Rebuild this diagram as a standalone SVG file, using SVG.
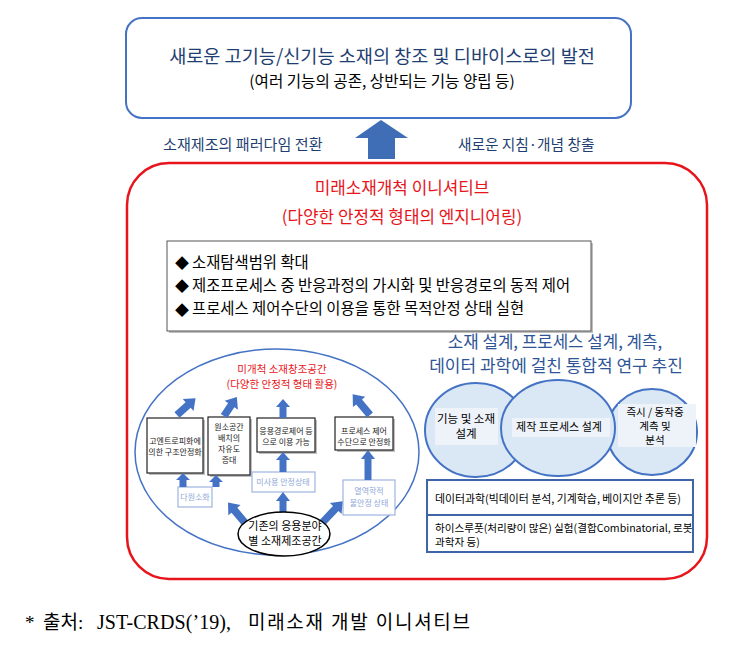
<svg xmlns="http://www.w3.org/2000/svg" width="752" height="649" viewBox="0 0 752 649">
<defs>
<style>
text{font-family:"Noto Sans CJK KR","Liberation Sans",sans-serif}
.kb{fill:#1F3F73}
.blk{fill:#000}
.red{fill:#E8141B}
.sm{font-size:8px;fill:#222;text-anchor:middle}
.lb{font-size:8px;fill:#8FA8D8;text-anchor:middle}
.arr{fill:#4472C4}
.wbox{fill:#fff;stroke:#222;stroke-width:1.2}
.shd{fill:#BFBFBF}
.lbbox{fill:#fff;stroke:#9DB5E0;stroke-width:1.2}
.ell{fill:#DAE8F6;stroke:#4472C4;stroke-width:2}
.tbg{fill:#EEF3FA}
.fn{font-family:"Liberation Serif","Noto Sans CJK KR",serif;fill:#000}
</style>
</defs>
<rect width="752" height="649" fill="#fff"/>

<g id="top-box">
<rect x="126" y="18" width="505" height="100" rx="16" fill="#fff" stroke="#4472C4" stroke-width="2"/>
<text x="382" y="63" font-size="18.6" text-anchor="middle" class="kb">새로운 고기능/신기능 소재의 창조 및 디바이스로의 발전</text>
<text x="382" y="87" font-size="15.6" text-anchor="middle" class="blk">(여러 기능의 공존, 상반되는 기능 양립 등)</text>
</g>

<g id="transition-labels">
<text x="163" y="150" font-size="15.1" class="kb">소재제조의 패러다임 전환</text>
<text x="458" y="150" font-size="14.7" class="kb">새로운 지침·개념 창출</text>
</g>

<g id="initiative-box">
<rect x="127" y="163" width="580" height="416" rx="42" fill="none" stroke="#E8141B" stroke-width="2.5"/>
<text x="402" y="194" font-size="16.9" text-anchor="middle" class="red">미래소재개척 이니셔티브</text>
<text x="402" y="223" font-size="16.9" text-anchor="middle" class="red">(다양한 안정적 형태의 엔지니어링)</text>
</g>

<g id="bullet-box">
<rect x="169" y="243" width="424" height="90" class="shd"/>
<rect x="167" y="241" width="424" height="90" fill="#fff" stroke="#555" stroke-width="1"/>
<text font-size="14" class="blk"><tspan x="175" y="268">◆</tspan><tspan x="175" y="291">◆</tspan><tspan x="175" y="315">◆</tspan></text>
<text font-size="15.4" class="blk">
<tspan x="192" y="268">소재탐색범위 확대</tspan>
<tspan x="192" y="291">제조프로세스 중 반응과정의 가시화 및 반응경로의 동적 제어</tspan>
<tspan x="192" y="314">프로세스 제어수단의 이용을 통한 목적안정 상태 실현</tspan>
</text>
</g>

<g id="unexplored-space">
<ellipse cx="277" cy="452" rx="142" ry="103" fill="#fff" stroke="#4472C4" stroke-width="1.5"/>
<text x="282" y="373" font-size="10.5" text-anchor="middle" class="red">미개척 소재창조공간</text>
<text x="282" y="388" font-size="10.5" text-anchor="middle" class="red">(다양한 안정적 형태 활용)</text>
</g>

<g id="box-entropy">
<rect x="149" y="420" width="56" height="55" class="shd"/>
<rect x="147" y="418" width="56" height="55" class="wbox"/>
<text class="sm"><tspan x="175" y="444">고엔트로피화에</tspan><tspan x="175" y="455">의한 구조안정화</tspan></text>
</g>

<g id="box-element">
<rect x="210" y="419" width="42" height="58" class="shd"/>
<rect x="208" y="417" width="42" height="58" class="wbox"/>
<text class="sm"><tspan x="229" y="430">원소공간</tspan><tspan x="229" y="441">배치의</tspan><tspan x="229" y="452">자유도</tspan><tspan x="229" y="463">증대</tspan></text>
</g>

<g id="box-path">
<rect x="259" y="420" width="58" height="34" class="shd"/>
<rect x="257" y="418" width="58" height="34" class="wbox"/>
<text class="sm"><tspan x="286" y="434">응용경로제어 등</tspan><tspan x="286" y="445">으로 이용 가능</tspan></text>
</g>

<g id="box-process">
<rect x="337" y="419" width="58" height="33" class="shd"/>
<rect x="335" y="417" width="58" height="33" class="wbox"/>
<text class="sm"><tspan x="364" y="434">프로세스 제어</tspan><tspan x="364" y="445">수단으로 안정화</tspan></text>
</g>

<g id="box-multi">
<rect x="178" y="487" width="34" height="20" class="lbbox"/>
<text class="lb" x="195" y="500">다원소화</text>
</g>

<g id="box-unused">
<rect x="252" y="472" width="63" height="20" class="lbbox"/>
<text class="lb" x="283" y="485">미사용 안정상태</text>
</g>

<g id="box-thermo">
<rect x="343" y="480" width="52" height="35" class="lbbox"/>
<text class="lb"><tspan x="369" y="494">열역학적</tspan><tspan x="369" y="506">불안정 상태</tspan></text>
</g>

<g id="connectors">
<path fill="#3F6EB7" d="M381,120 L408,138 L395,138 L395,159 L368,159 L368,138 L355,138 Z"/>
<g class="arr">
<path transform="translate(177,415) rotate(48)" d="M0,-25 L8,-15 L3.8,-15 L3.8,0 L-3.8,0 L-3.8,-15 L-8,-15 Z"/>
<path transform="translate(224,416) rotate(34)" d="M0,-23 L8,-13 L3.8,-13 L3.8,0 L-3.8,0 L-3.8,-13 L-8,-13 Z"/>
<path transform="translate(283,418)" d="M0,-19 L7,-11 L3.5,-11 L3.5,0 L-3.5,0 L-3.5,-11 L-7,-11 Z"/>
<path transform="translate(370,415) rotate(-40)" d="M0,-27 L8,-17 L3.8,-17 L3.8,0 L-3.8,0 L-3.8,-17 L-8,-17 Z"/>
<path transform="translate(183,487)" d="M0,-14 L7,-7 L3.5,-7 L3.5,0 L-3.5,0 L-3.5,-7 L-7,-7 Z"/>
<path transform="translate(216,487)" d="M0,-12 L7,-5 L3.5,-5 L3.5,0 L-3.5,0 L-3.5,-5 L-7,-5 Z"/>
<path transform="translate(283,472)" d="M0,-20 L7,-12 L3.5,-12 L3.5,0 L-3.5,0 L-3.5,-12 L-7,-12 Z"/>
<path transform="translate(368,480)" d="M0,-30 L7,-21 L3.5,-21 L3.5,0 L-3.5,0 L-3.5,-21 L-7,-21 Z"/>
<path transform="translate(246,524) rotate(-40)" d="M0,-28 L8,-18 L3.8,-18 L3.8,0 L-3.8,0 L-3.8,-18 L-8,-18 Z"/>
<path transform="translate(283,513)" d="M0,-21 L7,-12 L3.5,-12 L3.5,0 L-3.5,0 L-3.5,-12 L-7,-12 Z"/>
<path transform="translate(322,523) rotate(43.5)" d="M0,-30 L8,-20 L3.8,-20 L3.8,0 L-3.8,0 L-3.8,-20 L-8,-20 Z"/>
</g>
</g>

<g id="existing-space">
<ellipse cx="284" cy="534" rx="46" ry="22" fill="#fff" stroke="#000" stroke-width="1.5"/>
<text font-size="11" text-anchor="middle" class="blk"><tspan x="285" y="530">기존의 응용분야</tspan><tspan x="285" y="545">별 소재제조공간</tspan></text>
</g>

<g id="research-heading">
<text x="555" y="348" font-size="16.8" text-anchor="middle" fill="#2E5597">소재 설계, 프로세스 설계, 계측,</text>
<text x="556" y="372" font-size="17" text-anchor="middle" fill="#2E5597">데이터 과학에 걸친 통합적 연구 추진</text>
</g>

<g id="circle-design">
<ellipse cx="476" cy="430" rx="51" ry="47" class="ell"/>
</g>
<g id="circle-measure">
<ellipse cx="652" cy="432" rx="45" ry="43" class="ell"/>
</g>
<g id="circle-process">
<ellipse cx="558" cy="428" rx="57" ry="48" class="ell"/>
</g>
<g id="circle-texts">
<rect x="435" y="408" width="63" height="37" class="tbg"/>
<text font-size="11.5" text-anchor="middle" class="blk"><tspan x="466" y="423">기능 및 소재</tspan><tspan x="466" y="438">설계</tspan></text>
<rect x="512" y="418" width="98" height="19" class="tbg"/>
<text x="559" y="431" font-size="11" text-anchor="middle" class="blk">제작 프로세스 설계</text>
<rect x="618" y="404" width="78" height="43" class="tbg"/>
<text font-size="10.5" text-anchor="middle" class="blk"><tspan x="655" y="416">즉시 / 동작중</tspan><tspan x="655" y="430">계측 및</tspan><tspan x="655" y="444">분석</tspan></text>
</g>

<g id="data-table">
<rect x="427" y="480" width="266" height="72" fill="#fff" stroke="#3F64A8" stroke-width="2"/>
<line x1="427" y1="515" x2="693" y2="515" stroke="#3F64A8" stroke-width="2"/>
<text x="435" y="503" font-size="10.9" class="blk">데이터과학(빅데이터 분석, 기계학습, 베이지안 추론 등)</text>
<text font-size="10.6" class="blk"><tspan x="435" y="532">하이스루풋(처리량이 많은) 실험(결합Combinatorial, 로봇</tspan><tspan x="435" y="546">과학자 등)</tspan></text>
</g>

<g id="source">
<text class="fn" font-size="19"><tspan x="25" y="629">*</tspan><tspan x="43" y="629">출처:</tspan><tspan x="97" y="629" font-size="20" textLength="134" lengthAdjust="spacing">JST-CRDS(’19),</tspan><tspan x="248" y="629" textLength="222" lengthAdjust="spacing">미래소재 개발 이니셔티브</tspan></text>
</g>
</svg>
